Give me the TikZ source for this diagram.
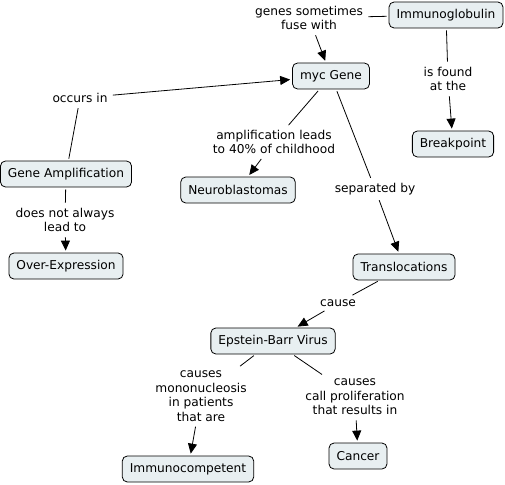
\documentclass[tikz,border=0pt]{standalone}
\usepackage{fontspec}
\setmainfont{DejaVu Sans}
\usetikzlibrary{arrows.meta,positioning}

\begin{document}
\begin{tikzpicture}[->,>={Triangle[length=10pt,width=9pt]},x=1pt,y=-1pt,
                    line width=0.8pt,shorten >=2pt,shorten <=2pt]
  \tikzset{concept/.style={draw,rounded corners=5pt,fill=conceptfill,
             font=\fontsize{12.2}{14.5}\selectfont,minimum height=26pt,inner xsep=7.5pt},
           link/.style={align=center,font=\fontsize{12.2}{14.5}\selectfont,inner sep=3pt}}
  \definecolor{conceptfill}{HTML}{E8EFF1}
  \useasboundingbox (0,0) rectangle (505,484);

  % concepts
  \node[concept] (Ig)  at (446,15)  {Immunoglobulin};
  \node[concept] (myc) at (331,76)  {myc Gene};
  \node[concept] (BP)  at (453,144) {Breakpoint};
  \node[concept] (GA)  at (66,174)  {Gene Amplification};
  \node[concept] (NB)  at (238,190) {Neuroblastomas};
  \node[concept] (OE)  at (66,266)  {Over-Expression};
  \node[concept] (TL)  at (404,267) {Translocations};
  \node[concept] (EBV) at (273,341) {Epstein-Barr Virus};
  \node[concept] (IC)  at (188,469) {Immunocompetent};
  \node[concept] (CA)  at (358,456) {Cancer};

  % linking phrases
  \node[link] (fuse)  at (309,18)  {genes sometimes\\fuse with};
  \node[link] (occ)   at (80,98)   {occurs in};
  \node[link] (found) at (448,79)  {is found\\at the};
  \node[link] (ampl)  at (274,142) {amplification leads\\to 40\% of childhood};
  \node[link] (sep)   at (375,189) {separated by};
  \node[link] (dna)   at (65,220)  {does not always\\lead to};
  \node[link] (cau)   at (338,303) {cause};
  \node[link] (mono)  at (201,396) {causes\\mononucleosis\\in patients\\that are};
  \node[link] (prol)  at (355,397) {causes\\call proliferation\\that results in};

  \path (Ig)   edge[-] (fuse)
        (fuse) edge    (myc)
        (Ig)   edge[-] (found)
        (found) edge   (BP)
        (GA)   edge[-] (occ)
        (occ)  edge    (myc)
        (myc)  edge[-] (ampl)
        (ampl) edge    (NB)
        (myc)  edge[-] (sep)
        (sep)  edge    (TL)
        (GA)   edge[-] (dna)
        (dna)  edge    (OE)
        (TL)   edge[-] (cau)
        (cau)  edge    (EBV)
        (EBV)  edge[-] (mono)
        (mono) edge    (IC)
        (EBV)  edge[-] (prol)
        (prol) edge    (CA);
\end{tikzpicture}
\end{document}
